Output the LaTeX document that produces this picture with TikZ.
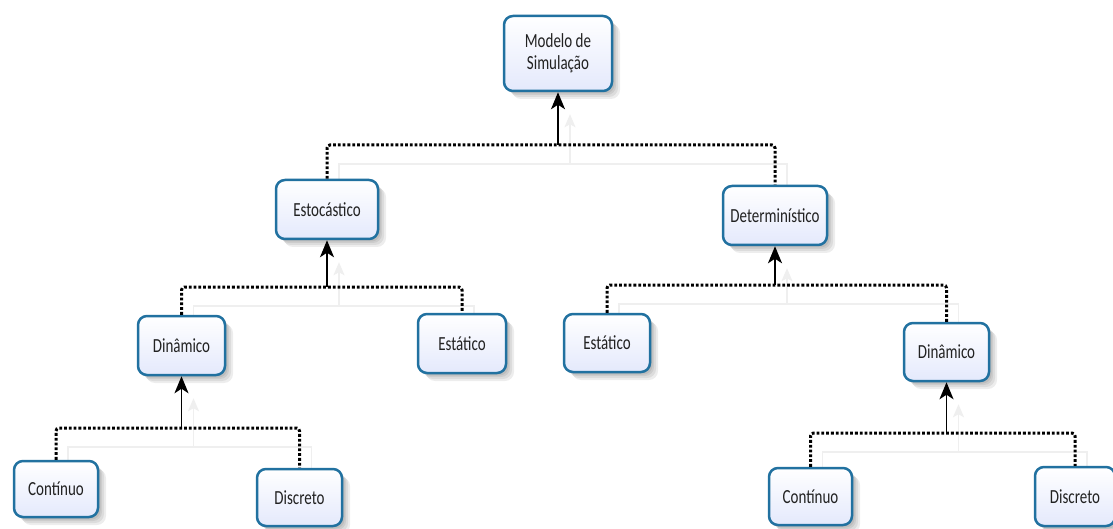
\documentclass[tikz,border=0pt]{standalone}
\usepackage{fontspec}
\newfontfamily\boxfont{Carlito}[FakeStretch=0.75]
\usetikzlibrary{arrows.meta,shadows,calc,backgrounds}

\definecolor{boxblue}{RGB}{33,113,160}
\definecolor{boxfill}{RGB}{228,233,252}
\definecolor{boxtext}{RGB}{34,34,34}
\definecolor{ghostgray}{RGB}{239,239,239}

% one parent with its two children: parent, left child, right child, y of the bar
\newcommand\branch[4]{%
  \coordinate (j#1) at (#1.south |- 0,#4);
  \begin{scope}[on background layer]
    \draw[ghost] ($(#2.north)+(12,0)$) |- ($(j#1)+(12,19)$) -| ($(#3.north)+(12,0)$);
    \draw[ghostarr] ($(j#1)+(12,19)$) -- ($(#1.south)+(12,22)$);
  \end{scope}
  \draw[dotline] (#2.north) |- (j#1) -| (#3.north);
  \draw[arr] (j#1) -- (#1.south);
}

\begin{document}
\begin{tikzpicture}[x=1pt,y=-1pt,
  softshadow/.style={drop shadow={shadow xshift=#1, shadow yshift=-#1, fill=black, opacity=0.07, draw=none}},
  box/.style={draw=boxblue, line width=2.5pt, rounded corners=9pt,
    top color=white, bottom color=boxfill, text=boxtext,
    font=\boxfont\fontsize{20}{22}\selectfont, align=center, inner sep=0pt,
    softshadow=8pt, softshadow=6pt, softshadow=4pt, softshadow=2.5pt},
  dotline/.style={black, line width=3pt, dash pattern=on 2.8pt off 2pt, rounded corners=3pt},
  arr/.style={black, line width=1.8pt, -{Stealth[length=17pt,width=14pt,inset=4.5pt]}},
  ghost/.style={ghostgray, line width=1.5pt},
  ghostarr/.style={ghostgray, line width=1.5pt, -{Stealth[length=13pt,width=11pt,inset=3pt]}}
]
\useasboundingbox (0,0) rectangle (1113,529);
\begin{scope}[on background layer]
  \fill[white] (0,0) rectangle (1113,529);
\end{scope}
\clip (0,0) rectangle (1113,529);

% boxes
\node[box, minimum width=108pt, minimum height=75pt] (M) at (558,53.5) {Modelo de\\Simulação};
\node[box, minimum width=102pt, minimum height=59pt] (E) at (327,209.5) {Estocástico};
\node[box, minimum width=104pt, minimum height=59pt] (D) at (775,215.5) {Determinístico};
\node[box, minimum width=87pt, minimum height=59pt] (Din1) at (181.5,345.5) {Dinâmico};
\node[box, minimum width=88pt, minimum height=59pt] (Est1) at (462,343.5) {Estático};
\node[box, minimum width=86pt, minimum height=58pt] (Est2) at (607,343) {Estático};
\node[box, minimum width=85pt, minimum height=58pt] (Din2) at (946.5,352) {Dinâmico};
\node[box, minimum width=84pt, minimum height=56pt] (Con1) at (56,489) {Contínuo};
\node[box, minimum width=85pt, minimum height=57pt] (Dis1) at (299.5,497.5) {Discreto};
\node[box, minimum width=83pt, minimum height=57pt] (Con2) at (810.5,496.5) {Contínuo};
\node[box, minimum width=80pt, minimum height=59pt] (Dis2) at (1075,496.5) {Discreto};

% connectors
\branch{M}{E}{D}{145}
\branch{E}{Din1}{Est1}{287}
\branch{D}{Est2}{Din2}{285}
\branch{Din1}{Con1}{Dis1}{428}
\branch{Din2}{Con2}{Dis2}{433}
\end{tikzpicture}
\end{document}
